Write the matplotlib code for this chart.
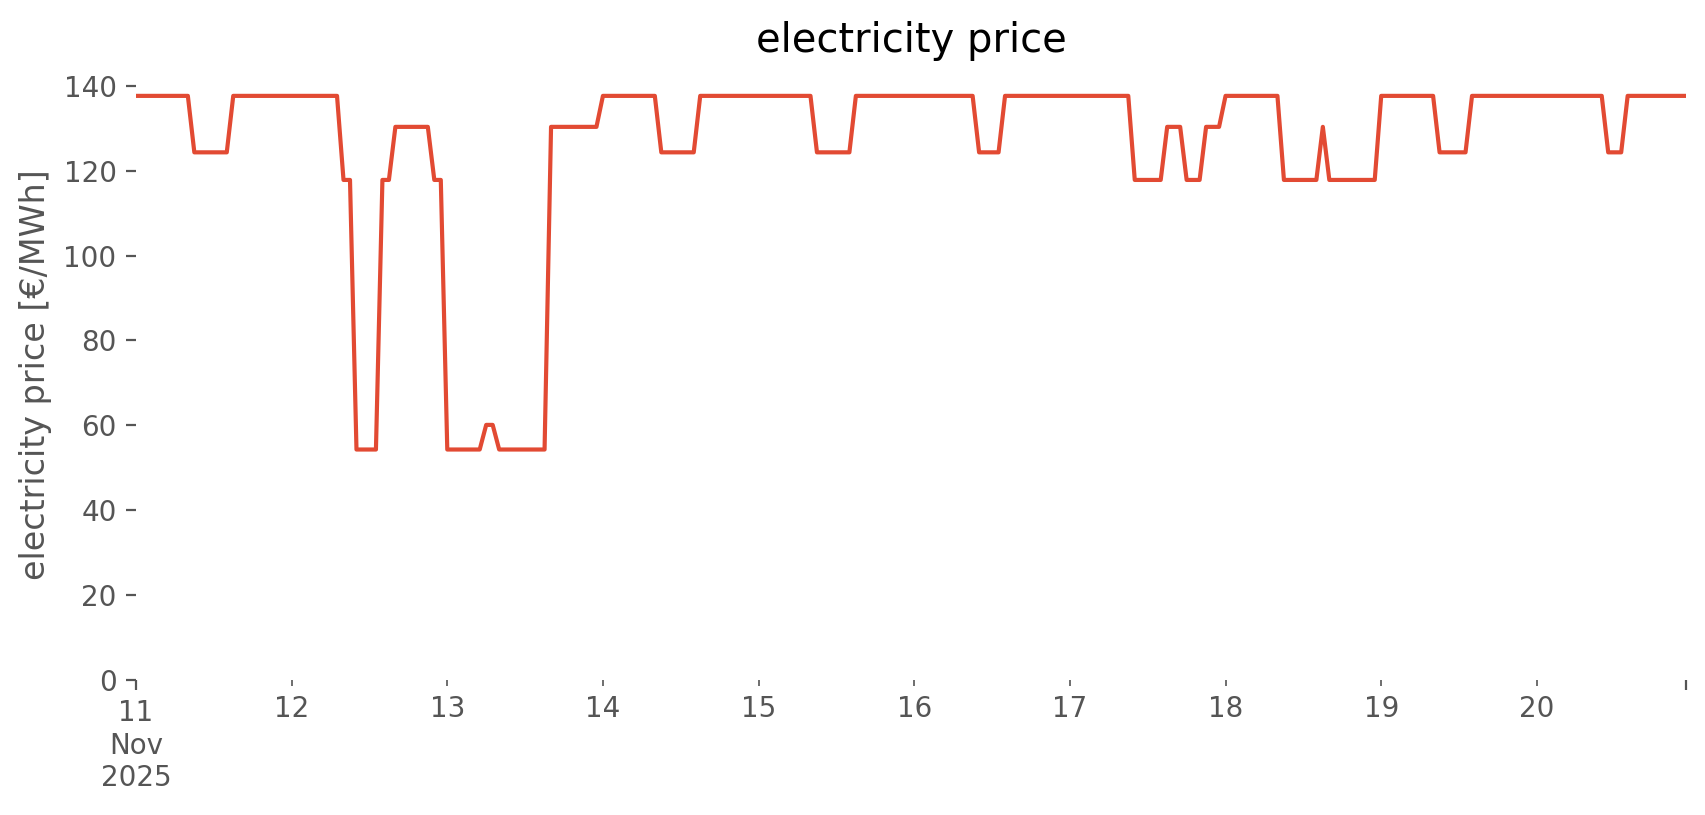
import matplotlib
matplotlib.use("Agg")
import matplotlib.pyplot as plt
import matplotlib.dates as mdates
import numpy as np
import pandas as pd

# hourly prices, stored as runs of equal price
run_price = [137.6, 124.3, 137.6, 117.8, 54.3, 117.8, 130.3, 117.8, 54.3, 60.1,
             54.3, 130.3, 137.6, 124.3, 137.6, 124.3, 137.6, 124.3, 137.6, 117.8,
             130.3, 117.8, 130.3, 137.6, 117.8, 130.3, 117.8, 137.6, 124.3, 137.6,
             124.3, 137.6]
run_hours = [9, 6, 17, 2, 4, 2, 6, 2, 6, 2,
             8, 8, 9, 6, 18, 6, 19, 4, 20, 5,
             3, 3, 3, 9, 6, 1, 8, 9, 5, 21,
             3, 10]

start = "2025-11-11 00:00"
day_labels = ["12", "13", "14", "15", "16", "17", "18", "19", "20"]

price = np.repeat(run_price, run_hours)
times = pd.date_range(start, periods=len(price), freq="h")

plt.style.use("ggplot")
plt.rcParams["axes.facecolor"] = "white"
plt.rcParams["axes.grid"] = False

fig = plt.figure(figsize=(8.53, 4.075), dpi=200)
ax = fig.add_axes([0.0797, 0.1656, 0.9086, 0.7501])

ax.plot(times.to_pydatetime(), price, color="#E24A33", lw=1.5)

ax.set_xlim(times[0].to_pydatetime(), times[-1].to_pydatetime())
ax.set_ylim(0, 144)
ax.set_yticks(np.arange(0, 141, 20))

# pandas-like date ticks: major at the ends, minor at each day
major = [times[0].to_pydatetime(), times[-1].to_pydatetime()]
minor = pd.date_range("2025-11-12", periods=len(day_labels), freq="D").to_pydatetime()
ax.set_xticks(mdates.date2num(major))
ax.set_xticklabels(["11\nNov\n2025", ""])
ax.set_xticks(mdates.date2num(minor), minor=True)
ax.set_xticklabels(day_labels, minor=True)
ax.tick_params(axis="x", which="minor", labelsize=10, colors="#555555")

for s in ax.spines.values():
    s.set_visible(False)

ax.set_title("electricity price", fontsize=14.4)
ax.set_ylabel("electricity price [€/MWh]", fontsize=12, color="#555555")

fig.savefig("out.png", dpi=200)
